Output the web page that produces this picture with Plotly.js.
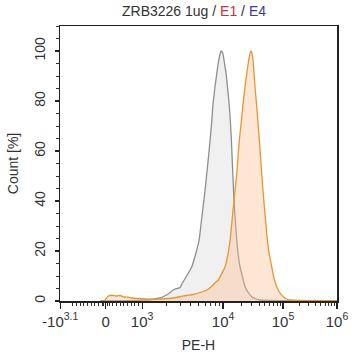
<!DOCTYPE html>
<html>
<head>
<meta charset="utf-8">
<script src="https://cdn.plot.ly/plotly-3.0.1.min.js"></script>
<style>html,body{margin:0;padding:0;background:#fff}#chart{width:356px;height:360px}</style>
</head>
<body>
<div id="chart"></div>
<script>
// Axis display units (biexponential-like PE-H scale), 0..277
const grayX = [40, 60, 80, 90, 97, 103, 108, 113, 117, 120, 122, 125, 128, 131.7, 135, 139, 141, 143, 145, 146.7, 148.5, 150, 151.5, 152.7, 154.7, 156.7, 158.5, 160, 161, 162.3, 163.5, 165, 166, 167.8, 169.3, 170.4, 171.3, 172.7, 174.3, 176.7, 178.3, 180, 182.5, 185, 188, 191.7, 195, 200, 210, 230, 277];
const grayY = [0, 0.1, 0.3, 0.5, 1.0, 1.7, 2.8, 4.4, 5.0, 5.4, 7.0, 9.0, 11.0, 13.7, 18, 24.4, 31, 37.7, 44.5, 51, 58, 64.4, 71, 77.7, 85, 91, 96, 98.8, 100, 99.5, 97.5, 93.5, 91, 84, 77.7, 71, 64.4, 51, 37.7, 24.4, 18, 13.7, 9.5, 5.7, 3.5, 1.7, 1.0, 0.4, 0.2, 0.1, 0];
const orangeX = [44, 46, 48, 52, 56, 60, 64, 68, 72, 78, 85, 92, 100, 108, 113, 120, 126, 133, 140, 146.7, 152, 155, 158.3, 161, 165, 168, 170, 171.7, 173.3, 175, 176.7, 178, 179.3, 181, 182.7, 184.7, 186.7, 188.5, 190, 190.7, 191.7, 193, 194, 195.3, 196.7, 198, 199.3, 200.5, 201.7, 203, 204.3, 205.8, 207.3, 209.5, 211.7, 214, 216.7, 220, 223.3, 226, 230, 240, 260, 277];
const orangeY = [0, 1.0, 2.0, 2.3, 2.0, 2.2, 1.6, 1.5, 1.2, 1.0, 0.8, 0.7, 0.8, 1.0, 1.2, 1.7, 2.2, 2.6, 3.4, 4.4, 6.0, 7.3, 8.4, 10.5, 13.7, 19, 24.4, 31, 37.7, 44.5, 51, 58, 64.4, 71, 77.7, 85, 91, 96, 99, 100, 99.3, 96, 91, 84, 77.7, 71, 64.4, 57.5, 51, 44, 37.7, 31, 24.4, 18, 13.7, 9, 5.7, 3.2, 1.7, 0.9, 0.4, 0.2, 0.1, 0];

// x tick values (PE-H intensity) and labels
const xTickValues = [-1259, 0, 1000, 1e4, 1e5, 1e6];
const xTickLabels = ['-10<sup>3.1</sup>', '0', '10<sup>3</sup>', '10<sup>4</sup>', '10<sup>5</sup>', '10<sup>6</sup>'];
const xMinorValues = [-900,-800,-700,-600,-500,-400,-300,-200,-100,-50,50,100,200,300,400,500,600,700,800,900,
  2000,3000,4000,5000,6000,7000,8000,9000,2e4,3e4,4e4,5e4,6e4,7e4,8e4,9e4,2e5,3e5,4e5,5e5,6e5,7e5,8e5,9e5];

// display transform of the scale
function disp(v){
  if (v <= 1000) return Math.max(45.5 + v * 0.0365, 0);
  if (v <= 1e4) return 82 + Math.log10(v/1000) * 81;
  if (v <= 1e5) return 163 + Math.log10(v/1e4) * 60;
  return 223 + Math.log10(v/1e5) * 54;
}

const traces = [
  {x: grayX, y: grayY, type: 'scatter', mode: 'lines', fill: 'tozeroy',
   line: {color: '#8e8e8e', width: 1.3, shape: 'spline', smoothing: 0.6},
   fillcolor: 'rgba(225,225,225,0.5)', hoverinfo: 'skip'},
  {x: orangeX, y: orangeY, type: 'scatter', mode: 'lines', fill: 'tozeroy',
   line: {color: '#e8962f', width: 1.3, shape: 'spline', smoothing: 0.6},
   fillcolor: 'rgba(250,190,140,0.38)', hoverinfo: 'skip'}
];

const layout = {
  width: 356, height: 360,
  margin: {l: 60, r: 19, t: 26, b: 59},
  paper_bgcolor: '#fff', plot_bgcolor: '#fff',
  showlegend: false,
  font: {family: 'Arial, sans-serif', size: 12, color: '#333'},
  title: {text: 'ZRB3226 1ug / <span style="color:#cc2f3a">E1</span> / <span style="color:#3d3b9c">E4</span>',
          x: 0.545, xanchor: 'center', y: 0.968, yanchor: 'middle',
          font: {size: 14, color: '#333'}},
  xaxis: {range: [-0.2, 277], tickmode: 'array', tickvals: xTickValues.map(disp), ticktext: xTickLabels,
          ticks: 'outside', ticklen: 6, tickcolor: '#222', tickwidth: 1.2,
          showline: true, linecolor: '#222', linewidth: 1.5, mirror: true,
          showgrid: false, zeroline: false, tickfont: {size: 15, color: '#333'},
          minor: {tickmode: 'array', tickvals: xMinorValues.map(disp), ticks: 'outside', ticklen: 3.5, tickcolor: '#333', tickwidth: 1, showgrid: false},
          title: {text: 'PE-H', font: {size: 14, color: '#333'}, standoff: 11}},
  yaxis: {range: [0, 110], tickmode: 'array', tickvals: [0,20,40,60,80,100], tickangle: -90,
          ticks: 'outside', ticklen: 4, tickcolor: '#222', tickwidth: 1.2, ticklabelstandoff: 4,
          showline: true, linecolor: '#222', linewidth: 1.5, mirror: true,
          showgrid: false, zeroline: false, tickfont: {size: 14, color: '#333'},
          minor: {dtick: 5, ticks: 'outside', ticklen: 3, tickcolor: '#333', tickwidth: 1, showgrid: false},
          title: {text: 'Count [%]', font: {size: 14, color: '#333'}, standoff: 10}}
};

Plotly.newPlot('chart', traces, layout, {displayModeBar: false, staticPlot: true});
</script>
</body>
</html>
